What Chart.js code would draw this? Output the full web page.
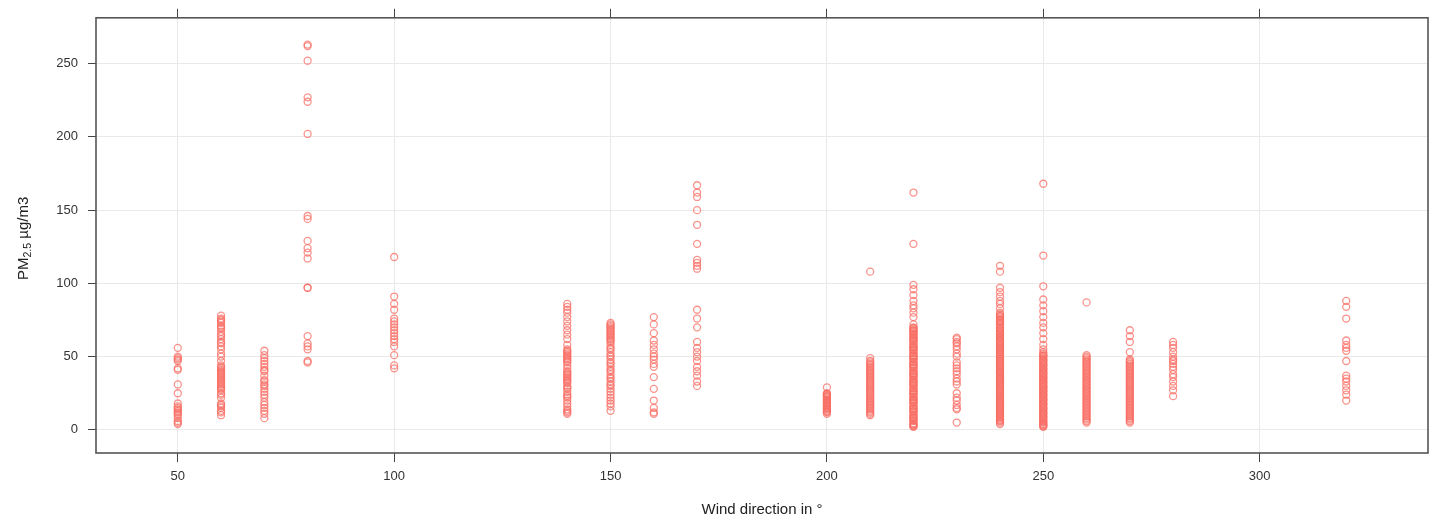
<!DOCTYPE html>
<html>
<head>
<meta charset="utf-8">
<script src="https://cdn.jsdelivr.net/npm/chart.js@4.4.1/dist/chart.umd.min.js"></script>
<style>
  html, body { margin: 0; padding: 0; background: #ffffff; }
  #wrap { width: 1439px; height: 523px; position: relative; }
</style>
</head>
<body>
<div id="wrap"><canvas id="c" width="1439" height="523"></canvas></div>
<script>
// ---- data ----
const windDir = [50, 60, 70, 80, 100, 140, 150, 160, 170, 200, 210, 220, 230, 240, 250, 260, 270, 280, 320];
const pm50  = [56,50,49,48,47,42,41,31,25,18,16,15,14,13,12,11,10,8,6,5,4];
const pm60  = [78,76,75,74,73,71,70,69,67,65,64,62,60,59,57,55,52,50,47,44,43,42,41,40,39,38,37,36,35,34,33,32,31,30,29,28,27,25,24,22,18,17,16,15,13,12,10];
const pm70  = [54,51,49,47,45,43,41,40,37,34,33,31,30,28,26,24,22,19,17,15,13,11,8];
const pm80  = [263,262,252,227,224,202,146,144,129,124,121,117,97,97,64,59,57,55,47,46];
const pm100 = [118,91,86,82,76,74,72,70,68,66,64,62,60,57,51,44,42];
const pm140 = [86,84,82,80,77,74,71,68,65,62,58,55,54,53,52,51,50,49,48,47,46,44,42,40,39,38,37,36,35,34,33,32,30,29,28,26,24,23,22,20,18,16,14,13,12,11];
const pm150 = [73,72,71,70,69,68,67,66,65,64,63,62,61,60,58,56,55,53,51,50,48,46,45,43,41,40,38,36,35,33,31,30,28,26,24,22,20,18,16,13];
const pm160 = [77,72,66,61,58,55,52,50,48,45,43,36,28,20,15,12,11];
const pm170 = [167,162,159,150,140,127,116,114,112,110,82,76,70,60,56,53,50,47,43,40,37,33,30];
const pm200 = [29,25,24.5,24,23.5,23,22.5,22,21,20.5,20,19,18.5,18,17,16.5,16,15,14.5,14,13,12.5,12,11];
const pm210 = [108,49,47,46,45,44,43,42,41,40,39,38,37,36,35,34,33,32,31,30,29,28,27,26,25,24,23,22,21,20,19,18,17,16,15,14,13,12,11,10];
const pm220 = [162,127,99,96,92,88,85,83,80,77,72,70,69.5,69,68,67.5,67,66,65.5,64.5,64,63,62.5,62,61,60.5,60,58.5,58,57,56.5,56,55,54.5,54,52.5,52,51,50.5,50,49,48.5,48,46.5,46,45,44.5,44,43,42.5,42,40.5,40,39,38.5,38,37,36.5,36,34.5,34,33,32.5,32,31,30.5,30,28.5,28,27,26.5,26,25,24.5,24,22.5,22,21,20.5,20,19,18.5,18,16.5,16,15,14.5,14,13,12.5,12,10.5,10,9,8.5,8,7,6.5,6,4.5,4,3.5,3,2.5,2];
const pm230 = [63,62,60,59,57,55,52,50,46,44,42,40,38,35,33,31,25,22,20,17,15,14,5];
const pm240 = [112,108,97,94,91,88,86,83,80,79,78,77.5,77,76,75,74.5,74,73,72,71.5,70,69.5,69,68,67,66.5,66,65,64,63.5,63,62,61,60.5,60,59,58,57.5,57,56,55,54.5,54,53,52,51.5,51,50,49,48.5,48,47,46,45.5,45,44,43,42.5,42,41,40,39.5,39,38,37,36.5,36,35,34,33.5,33,32,31,30.5,30,29,28,27.5,27,26,25,24.5,24,23,22,21.5,21,20,19,18.5,18,17,16,15.5,15,14,13,12.5,12,11,10,9.5,9,8,7,6.5,6,5,4];
const pm250 = [168,119,98,89,85,81,77,73,70,66,62,58,55,53,52,51,50.5,50,49,48,47.5,47,46,45,44.5,44,43,42,41.5,41,40,39,38.5,38,37,36,35.5,35,34,33,32.5,32,31,30,29.5,29,28,27,26.5,26,25,24,23.5,23,22,21,20.5,20,19,18,17.5,17,16,15,14.5,14,13,12,11.5,11,10,9,8.5,8,7,6,5.5,5,4,3.5,3,2.5,2];
const pm260 = [87,51,50,49,48,47,46,45,44,43,42,41,40,39,38,37,36,35,34,33,32,31,30,29,28,27,26,25,24,23,22,21,20,19,18,17,16,15,14,13,12,11,10,9,8,7,6,5];
const pm270 = [68,64,60,53,48,47,46,45,44,43,42,41,40,39,38,37,36,35,34,33,32,31,30,29,28,27,26,25,24,23,22,21,20,19,18,17,16,15,14,13,12,11,10,9,8,7,6,5];
const pm280 = [60,58,56,53,50,48,47,45,43,41,38,36,33,30,27,23];
const pm320 = [88,84,76,61,58,56,54,47,37,35,33,30,27,24,20];
const pmByDir = [pm50, pm60, pm70, pm80, pm100, pm140, pm150, pm160, pm170, pm200, pm210, pm220, pm230, pm240, pm250, pm260, pm270, pm280, pm320];

const xTicks = [50, 100, 150, 200, 250, 300];
const yTicks = [0, 50, 100, 150, 200, 250];
const xTitle = 'Wind direction in °';
const yTitleMain = 'PM';
const yTitleSub = '2.5';
const yTitleUnit = ' µg/m3';

// ---- build points ----
const points = [];
windDir.forEach((d, i) => pmByDir[i].forEach(v => points.push({x: d, y: v})));

const X_MIN = 31.1, X_MAX = 338.9, Y_MIN = -15.8, Y_MAX = 281.3;
const FONT = '"Liberation Sans", Arial, Helvetica, sans-serif';

const boxAndTitles = {
  id: 'boxAndTitles',
  afterDraw(chart) {
    const {ctx, chartArea: a} = chart;
    ctx.save();
    ctx.strokeStyle = '#555555';
    ctx.lineWidth = 1.6;
    ctx.strokeRect(a.left, a.top, a.right - a.left, a.bottom - a.top);
    ctx.fillStyle = '#222222';
    ctx.font = '15px ' + FONT;
    ctx.textAlign = 'center';
    ctx.textBaseline = 'middle';
    ctx.fillText(xTitle, (a.left + a.right) / 2, 510);
    ctx.translate(24, (a.top + a.bottom) / 2 + 3);
    ctx.rotate(-Math.PI / 2);
    const mainFont = '15px ' + FONT, subFont = '10.5px ' + FONT;
    ctx.font = mainFont; const w1 = ctx.measureText(yTitleMain).width;
    ctx.font = subFont; const w2 = ctx.measureText(yTitleSub).width;
    ctx.font = mainFont; const w3 = ctx.measureText(yTitleUnit).width;
    let x0 = -(w1 + w2 + w3) / 2;
    ctx.textAlign = 'left';
    ctx.textBaseline = 'middle';
    ctx.font = mainFont; ctx.fillText(yTitleMain, x0, 0);
    ctx.font = subFont; ctx.fillText(yTitleSub, x0 + w1, 4);
    ctx.font = mainFont; ctx.fillText(yTitleUnit, x0 + w1 + w2, 0);
    ctx.restore();
  }
};

new Chart(document.getElementById('c'), {
  type: 'scatter',
  data: {
    datasets: [{
      data: points,
      pointStyle: 'circle',
      pointRadius: 3.5,
      pointBorderWidth: 1.3,
      pointBackgroundColor: 'rgba(0,0,0,0)',
      pointBorderColor: 'rgba(248,110,100,0.75)',
      showLine: false
    }]
  },
  options: {
    responsive: false,
    animation: false,
    devicePixelRatio: 1,
    layout: { padding: { left: 0, right: 11, top: 0, bottom: 0 } },
    plugins: { legend: { display: false }, tooltip: { enabled: false } },
    scales: {
      x: {
        type: 'linear', position: 'bottom', min: X_MIN, max: X_MAX,
        afterBuildTicks: s => { s.ticks = xTicks.map(v => ({value: v})); },
        afterFit: s => { s.height = 70; },
        grid: { color: '#e9e9e9', lineWidth: 1, tickColor: '#444444', tickLength: 9, drawTicks: true },
        border: { display: false },
        ticks: { color: '#333333', font: { family: FONT, size: 13 }, padding: 7, maxRotation: 0,
                 callback: v => String(v) }
      },
      xTop: {
        type: 'linear', position: 'top', min: X_MIN, max: X_MAX,
        afterBuildTicks: s => { s.ticks = xTicks.map(v => ({value: v})); },
        afterFit: s => { s.height = 16; },
        grid: { drawOnChartArea: false, tickColor: '#444444', tickLength: 9, drawTicks: true },
        border: { display: false },
        ticks: { display: false }
      },
      y: {
        type: 'linear', position: 'left', min: Y_MIN, max: Y_MAX,
        afterBuildTicks: s => { s.ticks = yTicks.map(v => ({value: v})); },
        afterFit: s => { s.width = 96; },
        grid: { color: '#e9e9e9', lineWidth: 1, tickColor: '#444444', tickLength: 8, drawTicks: true },
        border: { display: false },
        ticks: { color: '#333333', font: { family: FONT, size: 13 }, padding: 10,
                 callback: v => String(v) }
      }
    }
  },
  plugins: [boxAndTitles]
});
</script>
</body>
</html>
